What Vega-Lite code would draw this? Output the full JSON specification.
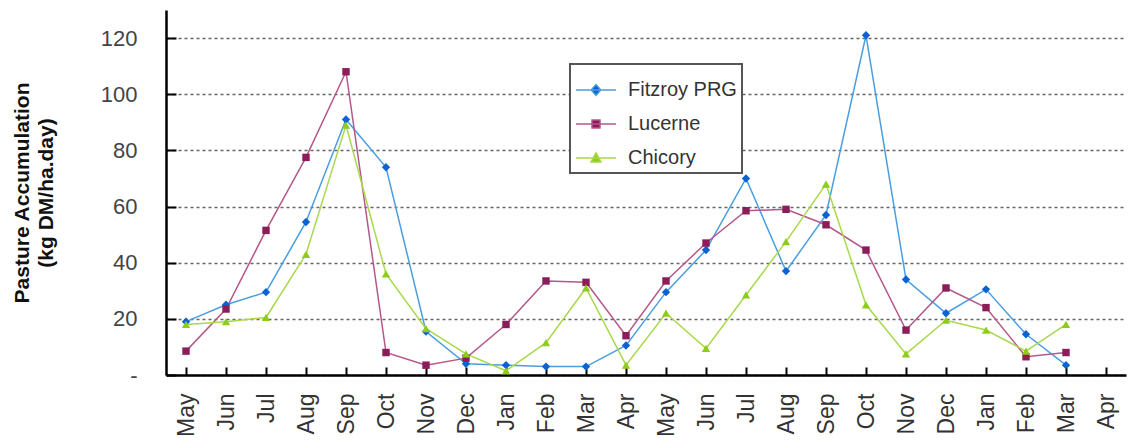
{
  "$schema": "https://vega.github.io/schema/vega-lite/v6.json",
  "width": 960,
  "height": 365,
  "autosize": {"type": "none"},
  "padding": {"left": 166, "top": 10, "right": 2, "bottom": 68},
  "config": {"view": {"stroke": null}, "font": "Liberation Sans"},
  "datasets": {
    "d": [
      {"i":0,"s":"Fitzroy PRG","v":19},{"i":1,"s":"Fitzroy PRG","v":25},{"i":2,"s":"Fitzroy PRG","v":29.5},{"i":3,"s":"Fitzroy PRG","v":54.5},{"i":4,"s":"Fitzroy PRG","v":91},{"i":5,"s":"Fitzroy PRG","v":74},{"i":6,"s":"Fitzroy PRG","v":15.5},{"i":7,"s":"Fitzroy PRG","v":4},{"i":8,"s":"Fitzroy PRG","v":3.5},{"i":9,"s":"Fitzroy PRG","v":3},{"i":10,"s":"Fitzroy PRG","v":3},{"i":11,"s":"Fitzroy PRG","v":10.5},{"i":12,"s":"Fitzroy PRG","v":29.5},{"i":13,"s":"Fitzroy PRG","v":44.5},{"i":14,"s":"Fitzroy PRG","v":70},{"i":15,"s":"Fitzroy PRG","v":37},{"i":16,"s":"Fitzroy PRG","v":57},{"i":17,"s":"Fitzroy PRG","v":121},{"i":18,"s":"Fitzroy PRG","v":34},{"i":19,"s":"Fitzroy PRG","v":22},{"i":20,"s":"Fitzroy PRG","v":30.5},{"i":21,"s":"Fitzroy PRG","v":14.5},{"i":22,"s":"Fitzroy PRG","v":3.5},
      {"i":0,"s":"Lucerne","v":8.5},{"i":1,"s":"Lucerne","v":23.5},{"i":2,"s":"Lucerne","v":51.5},{"i":3,"s":"Lucerne","v":77.5},{"i":4,"s":"Lucerne","v":108},{"i":5,"s":"Lucerne","v":8},{"i":6,"s":"Lucerne","v":3.5},{"i":7,"s":"Lucerne","v":6},{"i":8,"s":"Lucerne","v":18},{"i":9,"s":"Lucerne","v":33.5},{"i":10,"s":"Lucerne","v":33},{"i":11,"s":"Lucerne","v":14},{"i":12,"s":"Lucerne","v":33.5},{"i":13,"s":"Lucerne","v":47},{"i":14,"s":"Lucerne","v":58.5},{"i":15,"s":"Lucerne","v":59},{"i":16,"s":"Lucerne","v":53.5},{"i":17,"s":"Lucerne","v":44.5},{"i":18,"s":"Lucerne","v":16},{"i":19,"s":"Lucerne","v":31},{"i":20,"s":"Lucerne","v":24},{"i":21,"s":"Lucerne","v":6.5},{"i":22,"s":"Lucerne","v":8},
      {"i":0,"s":"Chicory","v":18},{"i":1,"s":"Chicory","v":19},{"i":2,"s":"Chicory","v":20.5},{"i":3,"s":"Chicory","v":43},{"i":4,"s":"Chicory","v":89},{"i":5,"s":"Chicory","v":36},{"i":6,"s":"Chicory","v":16.5},{"i":7,"s":"Chicory","v":7.5},{"i":8,"s":"Chicory","v":1.5},{"i":9,"s":"Chicory","v":11.5},{"i":10,"s":"Chicory","v":31},{"i":11,"s":"Chicory","v":3.5},{"i":12,"s":"Chicory","v":22},{"i":13,"s":"Chicory","v":9.5},{"i":14,"s":"Chicory","v":28.5},{"i":15,"s":"Chicory","v":47.5},{"i":16,"s":"Chicory","v":68},{"i":17,"s":"Chicory","v":25},{"i":18,"s":"Chicory","v":7.5},{"i":19,"s":"Chicory","v":19.5},{"i":20,"s":"Chicory","v":16},{"i":21,"s":"Chicory","v":8.5},{"i":22,"s":"Chicory","v":18}
    ]
  },
  "data": {"name": "d"},
  "encoding": {
    "x": {
      "field": "i", "type": "ordinal",
      "scale": {"domain": [0,1,2,3,4,5,6,7,8,9,10,11,12,13,14,15,16,17,18,19,20,21,22,23], "paddingInner": 0, "paddingOuter": 0},
      "axis": {
        "title": null,
        "labelExpr": "['May','Jun','Jul','Aug','Sep','Oct','Nov','Dec','Jan','Feb','Mar','Apr','May','Jun','Jul','Aug','Sep','Oct','Nov','Dec','Jan','Feb','Mar','Apr'][datum.value]",
        "labelAngle": -90, "labelFontSize": 23, "labelColor": "#333",
        "labelPadding": 26, "tickSize": -8, "tickColor": "#000", "tickWidth": 2,
        "bandPosition": 0, "domainColor": "#000", "domainWidth": 2.5, "grid": false
      }
    },
    "y": {
      "field": "v", "type": "quantitative",
      "scale": {"domain": [0, 130], "nice": false},
      "axis": {
        "title": ["Pasture Accumulation", "(kg DM/ha.day)"],
        "titleFontSize": 21, "titleFontWeight": "bold", "titleColor": "#111", "titlePadding": 44, "titleLineHeight": 24,
        "values": [0,20,40,60,80,100,120],
        "labelExpr": "datum.value == 0 ? '-' : datum.label",
        "labelFontSize": 22, "labelColor": "#444", "labelPadding": 39,
        "tickSize": -10, "tickColor": "#000", "tickWidth": 2,
        "domainColor": "#000", "domainWidth": 2.5,
        "grid": true, "gridColor": "#666", "gridDash": [3, 3], "gridWidth": 1.6
      }
    }
  },
  "layer": [
    {
      "mark": {"type": "line", "strokeWidth": 1.5},
      "encoding": {
        "stroke": {
          "field": "s", "type": "nominal",
          "scale": {"domain": ["Fitzroy PRG", "Lucerne", "Chicory"], "range": ["#4a9ee0", "#b5578a", "#a8d84c"]},
          "legend": {
            "orient": "none", "legendX": 404, "legendY": 54, "title": null,
            "padding": 5, "symbolSize": 1600, "rowPadding": 3, "labelOffset": 11,
            "labelFontSize": 20, "labelColor": "#333", "symbolStrokeWidth": 1.5,
            "strokeColor": "#555", "fillColor": "white",
            "encode": {"legend": {"update": {"strokeWidth": {"value": 2}}}}
          }
        }
      }
    },
    {
      "transform": [{"filter": {"field": "v", "lt": -1000}}],
      "mark": {"type": "point", "filled": true, "opacity": 1},
      "encoding": {
        "fill": {
          "field": "s", "type": "nominal",
          "scale": {"domain": ["Fitzroy PRG", "Lucerne", "Chicory"], "range": ["#0b62d0", "#8c1d5a", "#8fcc1a"]},
          "legend": {
            "orient": "none", "legendX": 404, "legendY": 54, "title": null,
            "padding": 5, "symbolSize": 1600, "rowPadding": 3, "labelOffset": 11,
            "labelFontSize": 20, "labelColor": "#333", "symbolStrokeWidth": 1.5,
            "strokeColor": "#555", "fillColor": "white"
          }
        },
        "shape": {
          "field": "s", "type": "nominal",
          "scale": {"domain": ["Fitzroy PRG", "Lucerne", "Chicory"], "range": ["M-1,0L1,0M0,-0.27L0.24,0L0,0.27L-0.24,0Z", "M-1,0L1,0M-0.2,-0.2L0.2,-0.2L0.2,0.2L-0.2,0.2Z", "M-1,0L1,0M0,-0.26L0.25,0.2L-0.25,0.2Z"]},
          "legend": {
            "orient": "none", "legendX": 404, "legendY": 54, "title": null,
            "padding": 5, "symbolSize": 1600, "rowPadding": 3, "labelOffset": 11,
            "labelFontSize": 20, "labelColor": "#333", "symbolStrokeWidth": 1.5,
            "strokeColor": "#555", "fillColor": "white"
          }
        }
      }
    },
    {
      "transform": [{"filter": {"field": "s", "equal": "Fitzroy PRG"}}],
      "mark": {"type": "point", "shape": "diamond", "filled": true, "fill": "#0b62d0", "size": 70, "opacity": 1, "strokeWidth": 0}
    },
    {
      "transform": [{"filter": {"field": "s", "equal": "Lucerne"}}],
      "mark": {"type": "point", "shape": "square", "filled": true, "fill": "#8c1d5a", "size": 55, "opacity": 1, "strokeWidth": 0}
    },
    {
      "transform": [{"filter": {"field": "s", "equal": "Chicory"}}],
      "mark": {"type": "point", "shape": "triangle-up", "filled": true, "fill": "#8fcc1a", "size": 70, "opacity": 1, "strokeWidth": 0}
    }
  ]
}
